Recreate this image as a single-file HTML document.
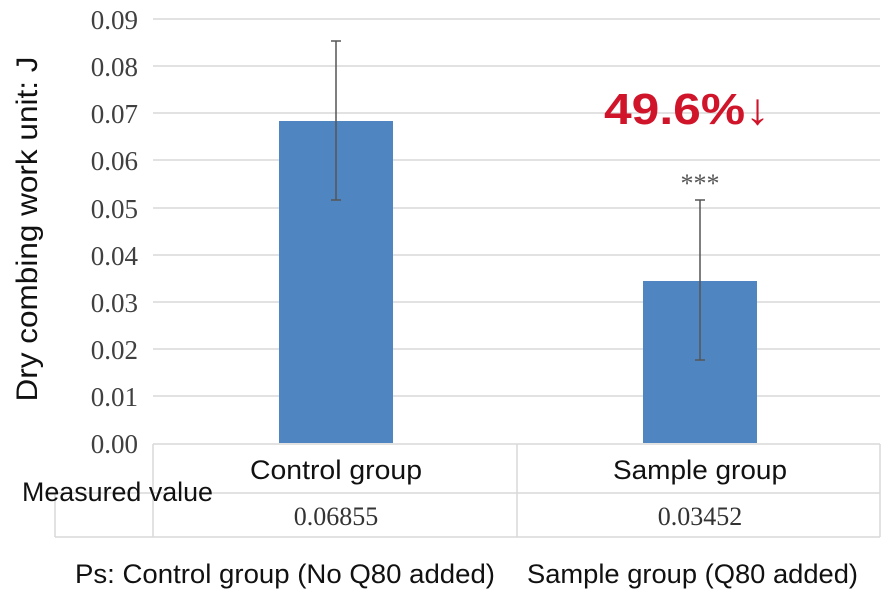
<!DOCTYPE html>
<html><head><meta charset="utf-8"><style>
body{margin:0;background:#fff;width:893px;height:608px;overflow:hidden}
</style></head><body>
<svg width="893" height="608" viewBox="0 0 893 608" xmlns="http://www.w3.org/2000/svg">
<rect width="893" height="608" fill="#fff"/>
<g stroke="#d9d9d9" stroke-width="1.5">
<line x1="153" y1="19" x2="880" y2="19"/>
<line x1="153" y1="66" x2="880" y2="66"/>
<line x1="153" y1="113" x2="880" y2="113"/>
<line x1="153" y1="160" x2="880" y2="160"/>
<line x1="153" y1="208" x2="880" y2="208"/>
<line x1="153" y1="255" x2="880" y2="255"/>
<line x1="153" y1="302" x2="880" y2="302"/>
<line x1="153" y1="349" x2="880" y2="349"/>
<line x1="153" y1="396" x2="880" y2="396"/>
</g>
<g font-family="Liberation Serif, serif" font-size="27" fill="#404040" text-anchor="end">
<text x="138" y="29">0.09</text><text x="138" y="76">0.08</text><text x="138" y="123">0.07</text>
<text x="138" y="170">0.06</text><text x="138" y="218">0.05</text><text x="138" y="265">0.04</text>
<text x="138" y="312">0.03</text><text x="138" y="359">0.02</text><text x="138" y="406">0.01</text>
<text x="138" y="453">0.00</text>
</g>
<text transform="translate(37,229) rotate(-90)" font-family="Liberation Sans, sans-serif" font-size="30" fill="#111" text-anchor="middle" textLength="345" lengthAdjust="spacingAndGlyphs">Dry combing work unit: J</text>
<rect x="279" y="121" width="114" height="322" fill="#4f86c2"/>
<rect x="643" y="281" width="114" height="162" fill="#4f86c2"/>
<g stroke="#555" stroke-width="1.5">
<line x1="336" y1="41" x2="336" y2="200"/><line x1="331" y1="41" x2="341" y2="41"/><line x1="331" y1="200" x2="341" y2="200"/>
<line x1="700" y1="200" x2="700" y2="360"/><line x1="695" y1="200" x2="705" y2="200"/><line x1="695" y1="360" x2="705" y2="360"/>
</g>
<text x="700" y="192" font-family="Liberation Serif, serif" font-size="26" fill="#555" text-anchor="middle">***</text>
<text x="604" y="124" font-family="Liberation Sans, sans-serif" font-size="44" font-weight="bold" fill="#d0152b" textLength="166" lengthAdjust="spacingAndGlyphs">49.6%↓</text>
<g stroke="#d9d9d9" stroke-width="1.5" fill="none">
<line x1="153" y1="444" x2="880" y2="444"/>
<line x1="55" y1="493" x2="880" y2="493"/>
<line x1="55" y1="537" x2="880" y2="537"/>
<line x1="55" y1="493" x2="55" y2="537"/>
<line x1="153" y1="444" x2="153" y2="537"/>
<line x1="517" y1="444" x2="517" y2="537"/>
<line x1="880" y1="444" x2="880" y2="537"/>
</g>
<g font-family="Liberation Sans, sans-serif" font-size="27" fill="#111" lengthAdjust="spacingAndGlyphs">
<text x="250" y="479" textLength="172" lengthAdjust="spacingAndGlyphs">Control group</text>
<text x="613" y="479" textLength="174" lengthAdjust="spacingAndGlyphs">Sample group</text>
<text x="22" y="501" textLength="191" lengthAdjust="spacingAndGlyphs">Measured value</text>
<text x="75" y="583" textLength="420" lengthAdjust="spacingAndGlyphs">Ps: Control group (No Q80 added)</text>
<text x="527" y="583" textLength="331" lengthAdjust="spacingAndGlyphs">Sample group (Q80 added)</text>
</g>
<g font-family="Liberation Serif, serif" font-size="26" fill="#333" text-anchor="middle">
<text x="336" y="525">0.06855</text>
<text x="700" y="525">0.03452</text>
</g>
</svg>
</body></html>
